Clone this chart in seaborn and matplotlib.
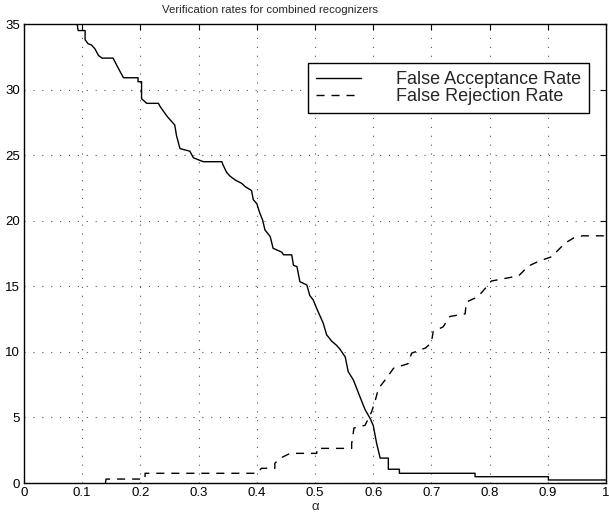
import numpy as np
import pandas as pd
import matplotlib
matplotlib.use('Agg')
import matplotlib.pyplot as plt
from matplotlib.ticker import FuncFormatter
import seaborn as sns

# traced curves (alpha, rate)
far_alpha = [0.088, 0.093, 0.105, 0.105, 0.110, 0.116, 0.122, 0.128, 0.134, 0.153, 0.160, 0.166, 0.171,
             0.196, 0.196, 0.202, 0.202, 0.211, 0.231, 0.234, 0.242, 0.247, 0.259, 0.262, 0.268,
             0.285, 0.291, 0.308, 0.340, 0.342, 0.348, 0.354, 0.363, 0.374, 0.380, 0.391, 0.394,
             0.400, 0.405, 0.410, 0.414, 0.423, 0.428, 0.443, 0.446, 0.460, 0.463, 0.469, 0.474,
             0.486, 0.491, 0.497, 0.503, 0.509, 0.514, 0.520, 0.529, 0.537, 0.543, 0.552, 0.557,
             0.566, 0.577, 0.586, 0.595, 0.600, 0.606, 0.612, 0.626, 0.626, 0.645, 0.645,
             0.775, 0.775, 0.901, 0.901, 1.0]
far_rate = [36.0, 34.5, 34.5, 33.8, 33.5, 33.4, 33.1, 32.6, 32.4, 32.4, 31.8, 31.3, 30.9,
            30.9, 30.6, 30.6, 29.3, 28.95, 28.95, 28.7, 28.2, 27.9, 27.3, 26.5, 25.5,
            25.3, 24.8, 24.5, 24.5, 24.25, 23.7, 23.4, 23.1, 22.85, 22.6, 22.3, 21.6,
            21.3, 20.6, 20.05, 19.3, 18.8, 17.9, 17.6, 17.4, 17.4, 16.6, 16.5, 15.35,
            15.1, 14.3, 13.95, 13.3, 12.7, 12.2, 11.3, 10.8, 10.5, 10.2, 9.6, 8.5,
            7.85, 6.6, 5.6, 4.9, 4.4, 3.0, 1.9, 1.9, 1.05, 1.05, 0.74,
            0.74, 0.48, 0.48, 0.23, 0.23]

frr_alpha = [0.140, 0.141, 0.208, 0.208, 0.400, 0.408, 0.431, 0.431, 0.440, 0.457, 0.503, 0.503,
             0.563, 0.563, 0.567, 0.586, 0.597, 0.603, 0.609, 0.623, 0.635, 0.660, 0.666,
             0.690, 0.700, 0.703, 0.720, 0.732, 0.758, 0.760, 0.780, 0.795, 0.803, 0.850,
             0.867, 0.884, 0.907, 0.918, 0.930, 0.945, 0.960, 0.996, 0.999]
frr_rate = [0.0, 0.3, 0.3, 0.74, 0.74, 1.12, 1.12, 1.5, 1.88, 2.26, 2.26, 2.64,
            2.64, 3.0, 4.2, 4.4, 5.4, 6.2, 7.2, 8.0, 8.75, 9.1, 9.9,
            10.3, 10.7, 11.55, 11.9, 12.7, 12.9, 13.8, 14.2, 14.97, 15.4, 15.8,
            16.55, 16.9, 17.26, 17.77, 18.3, 18.7, 18.85, 18.85, 19.3]

labels = ['False Acceptance Rate', 'False Rejection Rate']

df = pd.concat([
    pd.DataFrame({'alpha': far_alpha, 'rate': far_rate, 'series': labels[0]}),
    pd.DataFrame({'alpha': frr_alpha, 'rate': frr_rate, 'series': labels[1]}),
], ignore_index=True)

sns.set_theme(style='white')
plt.rcParams.update({'font.family': ['Liberation Sans', 'DejaVu Sans'],
                     'xtick.direction': 'in', 'ytick.direction': 'in'})

fig = plt.figure(figsize=(6.09, 5.20), dpi=100)
ax = fig.add_axes([24/609, 37/520, 582/609, 459/520])

sns.lineplot(data=df, x='alpha', y='rate', hue='series', style='series',
             palette=['black', 'black'],
             dashes={labels[0]: '', labels[1]: (5.8, 5)},
             sort=False, estimator=None, linewidth=1.0, ax=ax)

ax.set_xlim(0, 1)
ax.set_ylim(0, 35)
ax.set_xticks(np.arange(0, 1.01, 0.1))
ax.set_yticks(np.arange(0, 36, 5))
ax.xaxis.set_major_formatter(FuncFormatter(lambda v, p: '%g' % round(v, 1)))
ax.tick_params(axis='both', which='both', direction='in', length=4, width=0.8,
               top=True, right=True, labelsize=9.5, colors='black', pad=3)
ax.grid(True, linestyle=(0, (1, 7)), color='#555555', linewidth=0.8)
for s in ax.spines.values():
    s.set_color('black')
    s.set_linewidth(1.0)

ax.set_xlabel('α', fontsize=9.5, labelpad=1)
ax.set_ylabel('')

fig.text(270/609, 1 - 10/520, 'Verification rates for combined recognizers',
         ha='center', va='center', fontsize=8.2)

leg = ax.legend(loc='upper left', bbox_to_anchor=(0.488, 0.915), borderaxespad=0,
                fontsize=13, frameon=True, fancybox=False, edgecolor='black',
                handlelength=2.5, handletextpad=1.9, labelspacing=0.0, borderpad=0.45)
leg.get_frame().set_linewidth(1.0)
leg.get_frame().set_facecolor('white')
leg.get_frame().set_alpha(1)

fig.savefig('out.png', dpi=100)
